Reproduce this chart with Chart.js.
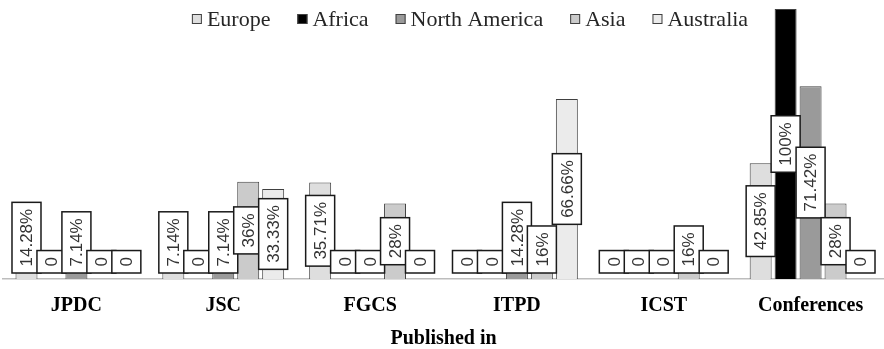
<!DOCTYPE html>
<html>
<head>
<meta charset="utf-8">
<title>Published in</title>
<script src="https://cdn.jsdelivr.net/npm/chart.js@4"></script>
<style>
    body { margin: 0; background: #ffffff; }
    #grafico_canvas { display: block; }
</style>
</head>
<body>
<canvas id="grafico_canvas" width="884" height="349"></canvas>
<script>
// dados (percentuais por continente)
const categorias = ['JPDC', 'JSC', 'FGCS', 'ITPD', 'ICST', 'Conferences'];
const series = ['Europe', 'Africa', 'North America', 'Asia', 'Australia'];
const europa = [14.28, 7.14, 35.71, 0, 0, 42.85];
const africa = [0, 0, 0, 0, 0, 100];
const americaNorte = [7.14, 7.14, 0, 14.28, 0, 71.42];
const asia = [0, 36, 28, 16, 16, 28];
const australia = [0, 33.33, 0, 66.66, 0, 0];
const valoresEixoY = [0, 100];

const cores = ['#dedede', '#000000', '#9a9a9a', '#cbcbcb', '#ebebeb'];

function formatarRotulo(valor) {
    if (valor === 0) return '0';
    return valor + '%';
}

// caixinhas brancas com o valor na vertical, centradas na barra
const pluginRotulos = {
    id: 'rotulos',
    afterDatasetsDraw(chart) {
        const ctx = chart.ctx;
        ctx.save();
        ctx.font = '17px "Liberation Sans", Arial, sans-serif';
        for (var i = 0; i < chart.data.datasets.length; i++) {
            var meta = chart.getDatasetMeta(i);
            var dados = chart.data.datasets[i].data;
            for (var j = 0; j < meta.data.length; j++) {
                var barra = meta.data[j];
                var texto = formatarRotulo(dados[j]);
                var comprimento = ctx.measureText(texto).width + 13;
                var largura = 29;
                var cy = (barra.y + barra.base) / 2;
                if (cy + comprimento / 2 > barra.base - 6) {
                    cy = barra.base - 6 - comprimento / 2;
                }
                ctx.fillStyle = '#ffffff';
                ctx.fillRect(barra.x - largura / 2, cy - comprimento / 2, largura, comprimento);
                ctx.strokeStyle = '#1a1a1a';
                ctx.lineWidth = 1.5;
                ctx.strokeRect(barra.x - largura / 2, cy - comprimento / 2, largura, comprimento);

                ctx.save();
                ctx.translate(barra.x, cy);
                ctx.rotate(-Math.PI / 2);
                ctx.fillStyle = '#333333';
                ctx.textAlign = 'center';
                ctx.textBaseline = 'middle';
                ctx.fillText(texto, 0, 1);
                ctx.restore();
            }
        }
        ctx.restore();
    }
};

// legenda desenhada por cima da area do grafico
const pluginLegenda = {
    id: 'legendaTopo',
    afterDraw(chart) {
        const ctx = chart.ctx;
        ctx.save();
        ctx.font = '22px "Liberation Serif", "Times New Roman", serif';
        ctx.textBaseline = 'middle';
        var caixa = 10, espaco = 5, intervalo = 27;
        var total = 0;
        chart.data.datasets.forEach(function (ds, k) {
            total += caixa + espaco + ctx.measureText(ds.label).width;
            if (k > 0) total += intervalo;
        });
        var x = 470 - total / 2;
        var y = 19;
        chart.data.datasets.forEach(function (ds) {
            ctx.fillStyle = ds.backgroundColor;
            ctx.fillRect(x, y - caixa / 2, caixa, caixa);
            ctx.strokeStyle = '#404040';
            ctx.lineWidth = 1;
            ctx.strokeRect(x + 0.5, y - caixa / 2 + 0.5, caixa - 1, caixa - 1);
            x += caixa + espaco;
            ctx.fillStyle = '#262626';
            ctx.fillText(ds.label, x, y + 1);
            x += ctx.measureText(ds.label).width + intervalo;
        });
        ctx.restore();
    }
};

function plotarGrafico() {
    var listas = [europa, africa, americaNorte, asia, australia];
    var datasets = [];
    for (var i = 0; i < series.length; i++) {
        datasets.push({
            label: series[i],
            data: listas[i],
            backgroundColor: cores[i],
            borderColor: '#404040',
            borderWidth: 1,
            categoryPercentage: 0.85,
            barPercentage: 0.88
        });
    }

    const config = {
        type: 'bar',
        data: { labels: categorias, datasets: datasets },
        options: {
            responsive: false,
            animation: false,
            layout: { padding: { top: 9, left: 3, right: 0, bottom: 0 } },
            plugins: {
                legend: { display: false },
                tooltip: { enabled: false }
            },
            scales: {
                x: {
                    afterFit: function (escala) { escala.height = 70; },
                    grid: { display: false, drawTicks: false },
                    border: { display: true, color: '#bdbdbd', width: 1.5 },
                    ticks: {
                        color: '#000000',
                        padding: 15,
                        font: { family: '"Liberation Serif", "Times New Roman", serif', size: 20, weight: 'bold' }
                    },
                    title: {
                        display: true,
                        text: 'Published in',
                        color: '#000000',
                        padding: { top: 0, bottom: 0 },
                        font: { family: '"Liberation Serif", "Times New Roman", serif', size: 20, weight: 'bold', lineHeight: 1.0 }
                    }
                },
                y: {
                    display: false,
                    min: valoresEixoY[0],
                    max: valoresEixoY[1]
                }
            }
        },
        plugins: [pluginRotulos, pluginLegenda]
    };

    let myChart = new Chart(document.getElementById('grafico_canvas'), config);
}

plotarGrafico();
</script>
</body>
</html>
